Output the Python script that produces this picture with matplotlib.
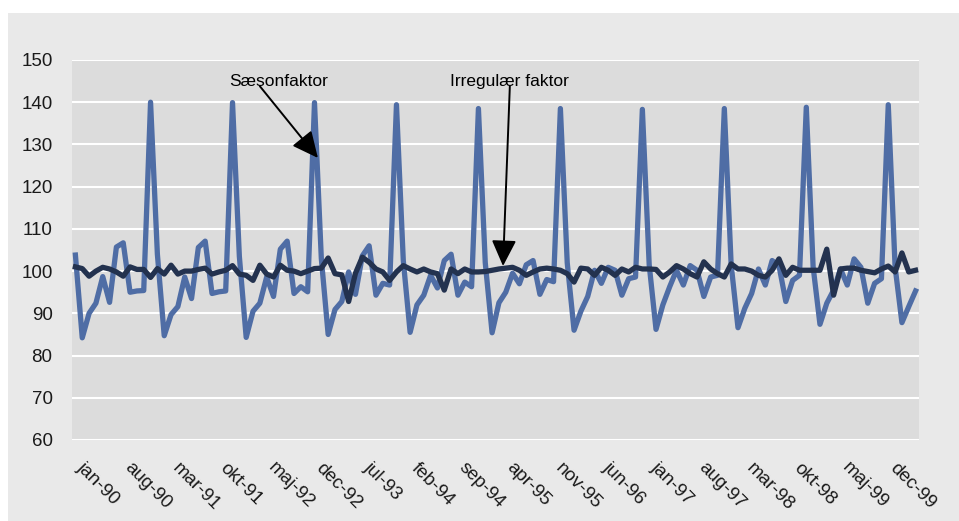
import matplotlib
matplotlib.use("Agg")
import matplotlib.pyplot as plt
from matplotlib.patches import Rectangle
from matplotlib.transforms import ScaledTranslation

plt.rcParams['font.family'] = ['Liberation Sans', 'DejaVu Sans']

# monthly values jan-90 .. apr-00 (124 months)
saeson = [
    103.8, 84.2, 90.0, 92.4, 98.7, 92.6, 105.7, 106.7, 95.0, 95.3, 95.4, 140.0,
    104.0, 84.7, 89.7, 91.6, 98.6, 93.5, 105.6, 107.1, 94.7, 95.1, 95.3, 139.9,
    103.5, 84.3, 90.5, 92.4, 98.6, 94.0, 105.2, 107.1, 94.7, 96.3, 95.1, 139.9,
    103.0, 85.0, 90.9, 92.8, 99.8, 94.5, 103.6, 106.0, 94.3, 97.1, 96.7, 139.4,
    102.5, 85.5, 92.0, 94.3, 99.0, 96.0, 102.5, 104.0, 94.3, 97.4, 96.3, 138.5,
    102.0, 85.4, 92.5, 95.0, 99.5, 97.0, 101.5, 102.5, 94.5, 98.0, 97.5, 138.5,
    102.0, 86.0, 90.5, 94.0, 100.2, 97.1, 100.9, 100.2, 94.3, 98.2, 98.6, 138.3,
    101.5, 86.2, 92.0, 96.3, 100.2, 96.7, 101.3, 100.2, 94.0, 98.6, 99.0, 138.5,
    101.5, 86.6, 91.2, 94.7, 100.5, 96.7, 102.5, 101.3, 92.8, 97.8, 99.0, 138.8,
    101.0, 87.4, 92.4, 95.5, 100.5, 96.7, 102.9, 100.9, 92.4, 97.1, 98.2, 139.4,
    101.0, 87.8, 91.6, 95.3,
]

irregulaer = [
    101.0, 100.6, 98.8, 100.0, 100.9, 100.5, 99.8, 98.8, 101.0, 100.4, 100.4, 98.5,
    100.6, 99.3, 101.4, 99.3, 100.0, 100.0, 100.4, 100.7, 99.3, 99.8, 100.2, 101.3,
    99.3, 99.0, 97.8, 101.4, 99.3, 98.6, 101.4, 100.2, 100.0, 99.4, 100.0, 100.6,
    100.7, 103.1, 99.4, 99.1, 92.8, 99.5, 103.3, 102.1, 100.5, 99.8, 97.8, 99.8,
    101.3, 100.5, 99.8, 100.5, 99.8, 99.4, 95.5, 100.5, 99.4, 100.5, 99.8, 99.8,
    99.9, 100.2, 100.5, 100.7, 100.9, 100.2, 99.0, 99.8, 100.5, 100.7, 100.5, 100.2,
    99.4, 97.4, 100.7, 100.5, 99.0, 100.9, 100.2, 99.0, 100.5, 99.8, 100.9, 100.5,
    100.5, 100.4, 98.6, 99.8, 101.3, 100.5, 99.4, 98.6, 102.2, 100.5, 99.4, 98.6,
    101.7, 100.5, 100.5, 100.0, 99.0, 98.6, 100.2, 102.9, 99.0, 100.9, 100.2, 100.2,
    100.2, 100.2, 105.2, 94.3, 100.5, 100.7, 100.7, 100.2, 99.9, 99.6, 100.5, 101.2,
    99.8, 104.3, 99.8, 100.2,
]

tick_labels = ['jan-90', 'aug-90', 'mar-91', 'okt-91', 'maj-92', 'dec-92',
               'jul-93', 'feb-94', 'sep-94', 'apr-95', 'nov-95', 'jun-96',
               'jan-97', 'aug-97', 'mar-98', 'okt-98', 'maj-99', 'dec-99']

fig = plt.figure(figsize=(9.59, 5.21), dpi=100)
fig.patch.set_facecolor('white')
fig.patches.append(Rectangle((8 / 959, 0), 1, 1 - 13 / 521, transform=fig.transFigure,
                             facecolor='#e9e9e9', edgecolor='none', zorder=-10))

ax = fig.add_axes([72 / 959, 81 / 521, 847 / 959, 380 / 521])
ax.set_facecolor('#dcdcdc')

x = list(range(len(saeson)))
ax.plot(x, saeson, color='#4f6da5', lw=3.8, solid_joinstyle='round', zorder=3)
ax.plot(x, irregulaer, color='#23324f', lw=3.8, solid_joinstyle='round', zorder=4)

ax.set_xlim(-0.5, len(saeson) - 0.5)
ax.set_ylim(60, 150)
ax.set_yticks(range(60, 151, 10))
ax.yaxis.grid(True, color='white', lw=1.5)
ax.set_axisbelow(True)
for s in ax.spines.values():
    s.set_visible(False)

ax.set_xticks(range(0, len(saeson), 7))
ax.set_xticklabels(tick_labels, rotation=-45, ha='left', va='top', rotation_mode='anchor')
ax.tick_params(axis='both', length=0, labelsize=13.5, colors='#1a1a1a')
ax.tick_params(axis='y', pad=14)
ax.tick_params(axis='x', pad=14)
shift = ScaledTranslation(10 / 100, 0, fig.dpi_scale_trans)
for lab in ax.get_xticklabels():
    lab.set_transform(lab.get_transform() + shift)

ax.text(29.7, 144.8, 'Sæsonfaktor', ha='center', va='center', fontsize=12.5, color='black')
ax.text(63.5, 144.8, 'Irregulær faktor', ha='center', va='center', fontsize=12.5, color='black')
arrow = dict(arrowstyle='-|>,head_length=0.8,head_width=0.38', color='black', lw=1.4,
             mutation_scale=20, shrinkA=0, shrinkB=0)
ax.annotate('', xy=(35.5, 126.8), xytext=(27.0, 143.8), arrowprops=arrow, zorder=6)
ax.annotate('', xy=(62.6, 101.2), xytext=(63.6, 143.8), arrowprops=arrow, zorder=6)

fig.savefig('out.png', dpi=100)
